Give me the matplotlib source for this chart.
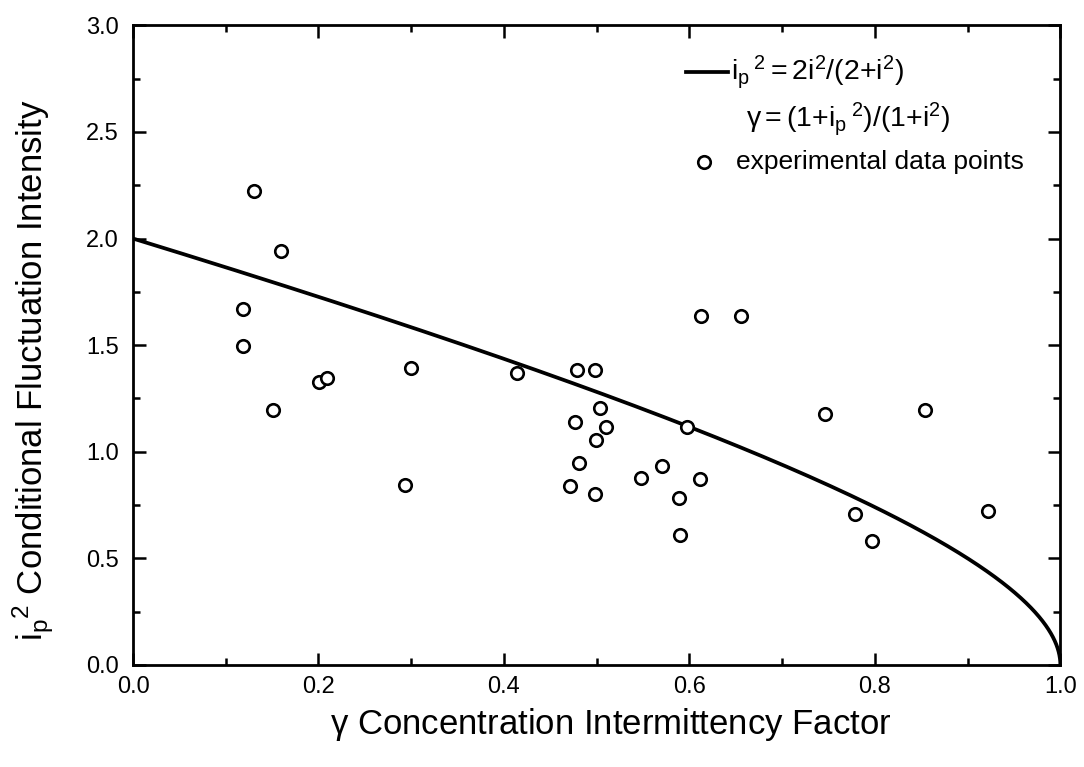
import numpy as np
import matplotlib
matplotlib.use("Agg")
import matplotlib.pyplot as plt
from matplotlib.lines import Line2D
from matplotlib.ticker import MultipleLocator

plt.rcParams['font.family'] = ['Liberation Sans', 'DejaVu Sans']
plt.rcParams['mathtext.fontset'] = 'custom'
plt.rcParams['mathtext.rm'] = 'Liberation Sans'
plt.rcParams['mathtext.it'] = 'Liberation Sans'

gamma_exp = [0.130, 0.160, 0.119, 0.119, 0.201, 0.209, 0.300, 0.151,
             0.414, 0.479, 0.498, 0.504, 0.477, 0.510, 0.499, 0.481,
             0.471, 0.498, 0.548, 0.570, 0.589, 0.590, 0.597, 0.293,
             0.612, 0.656, 0.611, 0.746, 0.854, 0.779, 0.797, 0.922]
ip2_exp = [2.225, 1.940, 1.670, 1.495, 1.325, 1.345, 1.392, 1.195,
           1.368, 1.385, 1.385, 1.203, 1.140, 1.117, 1.055, 0.946,
           0.840, 0.800, 0.876, 0.932, 0.785, 0.608, 1.115, 0.845,
           1.635, 1.635, 0.870, 1.178, 1.196, 0.710, 0.580, 0.724]

# theoretical curve: ip^2 = 2i^2/(2+i^2), gamma = (1+ip^2)/(1+i^2)
i_sq = np.concatenate([np.linspace(0, 1, 400), np.logspace(0, 6, 600)])
ip_sq = 2 * i_sq / (2 + i_sq)
gamma_th = (1 + ip_sq) / (1 + i_sq)

fig = plt.figure(figsize=(10.84, 7.67), dpi=100)
ax = fig.add_axes([0.1227, 0.133, 0.8555, 0.834])

ax.plot(gamma_th, ip_sq, color='black', lw=2.7, solid_capstyle='round')
ax.plot(gamma_exp, ip2_exp, 'o', ms=9, mfc='white', mec='black', mew=1.9)

ax.set_xlim(0, 1)
ax.set_ylim(0, 3)
ax.xaxis.set_major_locator(MultipleLocator(0.2))
ax.xaxis.set_minor_locator(MultipleLocator(0.1))
ax.yaxis.set_major_locator(MultipleLocator(0.5))
ax.yaxis.set_minor_locator(MultipleLocator(0.25))
ax.xaxis.set_major_formatter(plt.FormatStrFormatter('%.1f'))
ax.yaxis.set_major_formatter(plt.FormatStrFormatter('%.1f'))
ax.tick_params(which='both', direction='in', top=True, right=True,
               width=1.8, labelsize=17)
ax.tick_params(which='major', length=9)
ax.tick_params(which='minor', length=5)
ax.tick_params(axis='x', which='major', pad=8)
ax.tick_params(axis='y', which='major', pad=10)
for s in ax.spines.values():
    s.set_linewidth(2.0)

ax.set_xlabel(r'$\mathregular{\gamma}$ Concentration Intermittency Factor',
              fontsize=25, va='center')
ax.xaxis.set_label_coords(0.515, -0.093)
ax.set_ylabel(r'$\mathregular{i_p{}^2}$ Conditional Fluctuation Intensity',
              fontsize=25, va='center')
ax.yaxis.set_label_coords(-0.108, 0.46)

# legend drawn by hand
ax.add_line(Line2D([0.596, 0.642], [0.927, 0.927], color='black', lw=2.7,
                   transform=ax.transAxes))
ax.text(0.645, 0.927, r'$\mathregular{i_p\,{}^2 = 2i^2/(2{+}i^2)}$',
        transform=ax.transAxes, fontsize=20.5, va='center', ha='left')
ax.text(0.661, 0.853, r'$\mathregular{\gamma = (1{+}i_p\,{}^2)/(1{+}i^2)}$',
        transform=ax.transAxes, fontsize=20.5, va='center', ha='left')
ax.add_line(Line2D([0.616], [0.786], marker='o', ms=9, mfc='white',
                   mec='black', mew=1.9, transform=ax.transAxes))
ax.text(0.650, 0.786, 'experimental data points',
        transform=ax.transAxes, fontsize=19, va='center', ha='left')

fig.savefig('out.png', dpi=100)
